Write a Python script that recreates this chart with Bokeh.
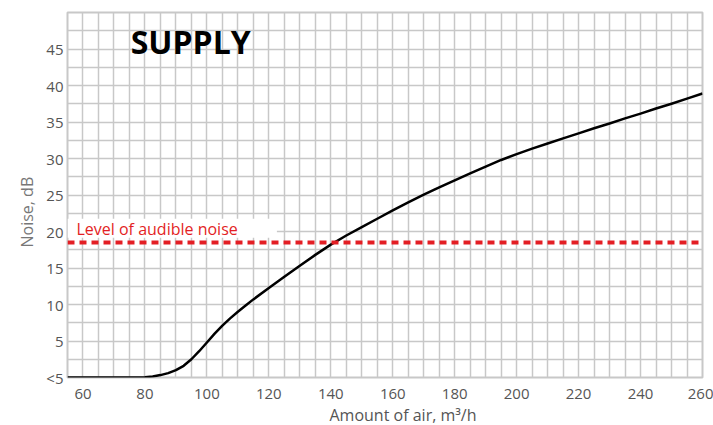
import numpy as np
from bokeh.plotting import figure
from bokeh.models import (ColumnDataSource, FixedTicker, Span, Label, BoxAnnotation, Title)
from bokeh.embed import file_html
from bokeh.resources import INLINE

# ---- data ----
air = [55, 60, 65, 70, 75, 80, 82.5, 85, 87.5, 90, 92.5, 95, 97.5, 100, 102.5, 105, 107.5,
       110, 112.5, 115, 120, 125, 130, 135, 140, 145, 150, 155, 160, 165, 170, 175, 180,
       185, 190, 195, 200, 205, 210, 215, 220, 225, 230, 235, 240, 245, 250, 255, 260]
noise = [0, 0, 0, 0, 0, 0.05, 0.13, 0.33, 0.6, 1.0, 1.6, 2.5, 3.6, 4.8, 6.0, 7.1, 8.1,
         9.0, 9.85, 10.7, 12.25, 13.8, 15.3, 16.8, 18.2, 19.45, 20.6, 21.75, 22.9, 24.0, 25.05,
         26.05, 27.0, 27.95, 28.9, 29.8, 30.6, 31.35, 32.05, 32.75, 33.45, 34.15, 34.8, 35.5,
         36.15, 36.85, 37.5, 38.2, 38.9]
audible_level = 18.5

x_ticks = [60, 80, 100, 120, 140, 160, 180, 200, 220, 240, 260]
y_ticks = [0, 5, 10, 15, 20, 25, 30, 35, 40, 45]
y_tick_labels = ["<5", "5", "10", "15", "20", "25", "30", "35", "40", "45"]

title_text = "SUPPLY"
audible_text = "Level of audible noise"
x_label = "Amount of air, m\u00b3/h"
y_label = "Noise, dB"

X0, X1 = 55, 260
Y0, Y1 = 0, 50

FONT = "Open Sans"
GRID = "#c8c8c8"
RED = "#e31e24"

p = figure(width=713, height=425, x_range=(X0, X1), y_range=(Y0, Y1),
           output_backend="svg", toolbar_location=None,
           min_border_left=67, min_border_right=11, min_border_top=12, min_border_bottom=48)

p.background_fill_color = "white"
p.border_fill_color = "white"
p.outline_line_color = GRID
p.outline_line_width = 2

# axes
p.xaxis.ticker = FixedTicker(ticks=x_ticks)
p.yaxis.ticker = FixedTicker(ticks=y_ticks)
p.yaxis.major_label_overrides = {t: l for t, l in zip(y_ticks, y_tick_labels)}
for ax in (p.xaxis, p.yaxis):
    ax.axis_line_color = None
    ax.major_tick_line_color = None
    ax.minor_tick_line_color = None
    ax.major_tick_out = 0
    ax.major_tick_in = 0
    ax.minor_tick_out = 0
    ax.major_label_text_font = FONT
    ax.major_label_text_font_size = "15px"
    ax.major_label_text_color = "#555555"
p.xaxis.major_label_standoff = 11
p.yaxis.major_label_standoff = 4

# grid
p.xgrid.ticker = FixedTicker(ticks=list(np.arange(X0, X1 + 1, 5)))
p.ygrid.ticker = FixedTicker(ticks=list(np.arange(Y0, Y1 + 0.1, 2.5)))
for g in (p.xgrid, p.ygrid):
    g.grid_line_color = GRID
    g.grid_line_width = 1.5

# curve
src = ColumnDataSource(dict(x=air, y=noise))
p.line("x", "y", source=src, line_color="black", line_width=2.5, line_join="round")

# audible-noise level
p.add_layout(BoxAnnotation(left=X0, right=122.6, bottom=19.14, top=21.74,
                           fill_color="white", fill_alpha=1.0, line_color=None))
p.add_layout(Span(location=audible_level, dimension="width", line_color=RED,
                  line_width=4, line_dash="7 5"))
p.add_layout(Label(x=57.9, y=20.32, text=audible_text, text_font=FONT,
                   text_font_size="16px", text_color=RED, text_baseline="alphabetic"))

# title
p.add_layout(Label(x=75.4, y=46.08, text=title_text, text_font=FONT,
                   text_font_size="32px", text_font_style="bold", text_color="black",
                   text_baseline="alphabetic"))

# axis labels (as side-panel titles so they can be offset like the reference)
p.add_layout(Title(text=x_label, align="left", offset=262, text_font=FONT,
                   text_font_size="16px", text_font_style="normal",
                   text_color="#555555", standoff=0), "below")
p.add_layout(Title(text=y_label, align="left", offset=130, text_font=FONT,
                   text_font_size="16px", text_font_style="normal",
                   text_color="#777777", standoff=11), "left")

open("out.html", "w").write(file_html(p, INLINE))
